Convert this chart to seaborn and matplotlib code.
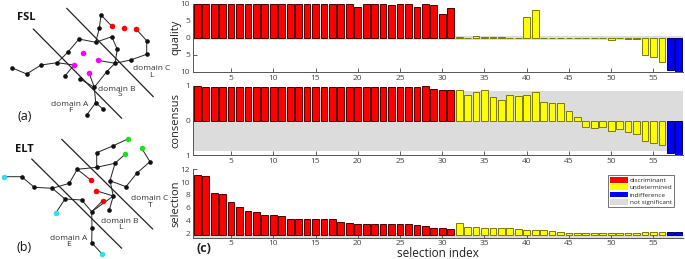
import numpy as np
import pandas as pd
import matplotlib
matplotlib.use("Agg")
import matplotlib.pyplot as plt
from matplotlib.patches import Patch
import seaborn as sns

sns.set_theme(style="white")
plt.rcParams['font.family'] = ['Open Sans', 'DejaVu Sans']

# ---------------- data ----------------
index = list(range(1, 59))
category = (['discriminant'] * 31) + (['undetermined'] * 25) + (['indifference'] * 2)

quality = [10, 10, 10, 10, 10, 10, 10, 10, 10, 10, 10, 9.8, 10, 10, 10, 10, 10, 9.8, 9.8, 9.0,
           10, 10, 10, 9.7, 9.8, 10, 9.0, 10, 9.5, 6.8, 8.6,
           0.15, 0.0, 0.4, 0.15, 0.15, 0.15, 0.0, 0.0, 6.0, 8.0, 0.0, 0.0, 0.0, 0.0, 0.0,
           -0.12, -0.12, -0.12, -0.6, -0.12, -0.25, -0.25, -4.9, -5.5, -7.0, -9.3, -10.0]

consensus = [1.0] + [0.98] * 22 + [0.96, 0.98, 0.98, 0.98, 0.99, 0.92, 0.88, 0.88,
             0.87, 0.74, 0.82, 0.87, 0.67, 0.60, 0.73, 0.70, 0.75, 0.82,
             0.53, 0.51, 0.51, 0.27, 0.10,
             -0.18, -0.23, -0.19, -0.31, -0.26, -0.34, -0.40,
             -0.60, -0.66, -0.72, -0.93, -1.0]

selection = [11.1, 11.0, 8.35, 8.2, 6.85, 6.16, 5.5, 5.33, 4.86, 4.86, 4.7, 4.28, 4.28, 4.28, 4.28,
             4.18, 4.18, 3.8, 3.66, 3.5, 3.5, 3.4, 3.4, 3.4, 3.4, 3.4, 3.25, 3.14, 2.88, 2.78, 2.67,
             3.56, 3.0, 2.93, 2.88, 2.82, 2.82, 2.82, 2.67, 2.56, 2.52, 2.52, 2.36, 2.2, 2.05,
             2.1, 2.1, 2.1, 2.1, 2.1, 2.1, 2.1, 2.1, 2.12, 2.12, 2.12, 2.12, 2.12]
selection_base = 1.8

legend_labels = ['discriminant', 'undetermined', 'indifference', 'not significant']
palette = {'discriminant': '#FF0000', 'undetermined': '#FFFF00',
           'indifference': '#0000FF', 'not significant': '#DCDCDC'}
edges = {'discriminant': '#4a0000', 'undetermined': '#7a7a00',
         'indifference': '#00006a'}

# graph diagrams (pixel coordinates of nodes in figure space)
fsl_black = [(11.7, 67.7), (26.7, 74), (41, 65), (57.3, 62.7), (65, 76), (68.3, 51.7), (79, 39),
             (80, 79), (95.7, 42.3), (99.3, 28.3), (101, 15), (111.7, 36.7), (117.3, 49.3),
             (115, 63.3), (106.7, 71.7), (94.3, 87.3), (95.7, 102.7), (103.3, 109.3), (86.7, 115),
             (130.7, 60), (146.7, 54.3), (146.7, 40.7)]
fsl_red = [(111.7, 26), (124, 27.7), (136, 29)]
fsl_mag = [(83.3, 52.7), (97.7, 60.3), (74, 65), (89, 72.7)]
fsl_paths = [[(11.7, 67.7), (26.7, 74), (41, 65), (57.3, 62.7), (74, 65)],
             [(74, 65), (65, 76)],
             [(57.3, 62.7), (68.3, 51.7), (79, 39), (95.7, 42.3), (99.3, 28.3), (101, 15), (111.7, 26)],
             [(95.7, 42.3), (111.7, 36.7), (117.3, 49.3), (115, 63.3), (106.7, 71.7), (94.3, 87.3)],
             [(115, 63.3), (130.7, 60), (146.7, 54.3), (146.7, 40.7), (136, 29)],
             [(97.7, 60.3), (115, 63.3)],
             [(89, 72.7), (94.3, 87.3)],
             [(80, 79), (94.3, 87.3), (95.7, 102.7), (86.7, 115)],
             [(95.7, 102.7), (103.3, 109.3)]]
fsl_cuts = [[(33.3, 29), (121.7, 118.3)], [(66.7, 8.3), (153.3, 96.7)]]

elt_black = [(21.7, 176.7), (34.3, 187.3), (52.3, 188.3), (65, 199), (69.3, 183.3), (77.3, 169.3),
             (81.7, 200), (96.7, 167.3), (96.7, 152.7), (112.7, 146), (115, 163.3), (110, 180.7),
             (113.3, 196), (109.3, 210), (91.7, 211.7), (92, 228.3), (91.7, 242.7), (126, 186.7),
             (136.7, 173.3), (150, 161.7)]
elt_cyan = [(4, 176.7), (56, 212.7), (102.3, 254.3)]
elt_green = [(127.7, 139), (125, 154.3), (141.7, 148.3)]
elt_red = [(90.7, 180), (96, 190.7), (102.7, 200.7)]
elt_paths = [[(4, 176.7), (21.7, 176.7), (34.3, 187.3), (52.3, 188.3), (65, 199), (56, 212.7)],
             [(52.3, 188.3), (69.3, 183.3), (77.3, 169.3), (96.7, 167.3), (96.7, 152.7), (112.7, 146), (127.7, 139)],
             [(65, 199), (81.7, 200), (91.7, 211.7)],
             [(77.3, 169.3), (90.7, 180)],
             [(96.7, 167.3), (115, 163.3), (125, 154.3)],
             [(115, 163.3), (110, 180.7), (113.3, 196), (109.3, 210)],
             [(110, 180.7), (126, 186.7), (136.7, 173.3), (150, 161.7), (141.7, 148.3)],
             [(96, 190.7), (113.3, 196)],
             [(102.7, 200.7), (91.7, 211.7)],
             [(91.7, 211.7), (113.3, 196)],
             [(91.7, 211.7), (92, 228.3), (91.7, 242.7), (102.3, 254.3)]]
elt_cuts = [[(31.7, 159), (121.7, 248.3)], [(61.7, 139.3), (152.7, 229)]]

# ---------------- figure ----------------
W, H = 685, 259
fig = plt.figure(figsize=(W / 100, H / 100), dpi=100)

def fr(top, bottom, left=193, right=683):
    return [left / W, 1 - bottom / H, (right - left) / W, (bottom - top) / H]

axq = fig.add_axes(fr(3.5, 72))
axc = fig.add_axes(fr(86, 155))
axs = fig.add_axes(fr(169.3, 237.7))

df = pd.DataFrame({'index': index, 'category': category, 'quality': quality,
                   'consensus': consensus, 'selection': selection})
df['sel_h'] = df['selection'] - selection_base

def style(ax, ylim, yticks, ylabels, ylabel, lx):
    ax.set_xlim(0.5, 58.5)
    ax.set_ylim(*ylim)
    ax.set_xticks(range(5, 56, 5))
    ax.set_xticklabels([str(v) for v in range(5, 56, 5)])
    ax.set_yticks(yticks)
    ax.set_yticklabels(ylabels)
    ax.tick_params(direction='in', length=3, width=0.6, labelsize=6, colors='#444444',
                   pad=2, bottom=True, left=True)
    for s in ['top', 'right']:
        ax.spines[s].set_visible(False)
    for s in ['left', 'bottom']:
        ax.spines[s].set_color('#555555')
        ax.spines[s].set_linewidth(0.7)
    ax.set_xlabel('')
    ax.set_ylabel(ylabel, fontsize=8, color='#222222')
    ax.yaxis.set_label_coords(lx, 0.5)
    ax.set_facecolor('white')

def color_edges(ax):
    inv = {matplotlib.colors.to_hex(v).lower(): k for k, v in palette.items()}
    for p in ax.patches:
        key = inv.get(matplotlib.colors.to_hex(p.get_facecolor()).lower())
        if key in edges:
            p.set_edgecolor(edges[key])
            p.set_linewidth(0.7)

bar_kw = dict(hue='category', palette=palette, native_scale=True, legend=False,
              width=0.8, saturation=1, zorder=2)

# quality
axq.axhspan(-0.7, 0.6, color='#DCDCDC', zorder=0, lw=0)
sns.barplot(data=df, x='index', y='quality', ax=axq, **bar_kw)
color_edges(axq)
style(axq, (-10, 10), [-10, -5, 0, 5, 10], ['10', '5', '0', '5', '10'], 'quality', -0.024)

# consensus
axc.axhspan(-0.87, 0.85, color='#DCDCDC', zorder=0, lw=0)
sns.barplot(data=df, x='index', y='consensus', ax=axc, **bar_kw)
color_edges(axc)
style(axc, (-1, 1), [-1, 0, 1], ['1', '0', '1'], 'consensus', -0.024)

# selection
axs.axhspan(1.3, 2.0, color='#DCDCDC', zorder=0, lw=0)
sns.barplot(data=df, x='index', y='sel_h', ax=axs, bottom=selection_base, **bar_kw)
color_edges(axs)
style(axs, (1.3, 12), [2, 4, 6, 8, 10, 12], ['2', '4', '6', '8', '10', '12'], 'selection', -0.024)
axs.set_xlabel('selection index', fontsize=8.5, color='#222222', labelpad=0)

handles = [Patch(facecolor=palette[k], edgecolor='none') for k in legend_labels]
leg = axs.legend(handles, legend_labels, loc='upper left',
                 bbox_to_anchor=((608 - 193) / 490, 1 - (175 - 169.3) / 68.4),
                 fontsize=4.6, frameon=True, fancybox=False, borderpad=0.3,
                 handlelength=2.8, handleheight=1.0, labelspacing=0.2, handletextpad=0.3,
                 borderaxespad=0)
leg.get_frame().set_edgecolor('#333333')
leg.get_frame().set_linewidth(0.6)

# ---------------- diagrams ----------------
ov = fig.add_axes([0, 0, 1, 1], zorder=-1)

def draw_graph(paths, cuts, groups):
    for pth in paths:
        xs, ys = zip(*pth)
        ov.plot(xs, ys, color='#222222', lw=0.7, zorder=1)
    for c in cuts:
        xs, ys = zip(*c)
        ov.plot(xs, ys, color='#222222', lw=0.9, zorder=1)
    for pts, col, s in groups:
        xs, ys = zip(*pts)
        sns.scatterplot(x=list(xs), y=list(ys), color=col, s=s, linewidth=0, ax=ov, zorder=3)

draw_graph(fsl_paths, fsl_cuts, [(fsl_black, '#111111', 11), (fsl_red, '#FF0000', 16),
                                 (fsl_mag, '#FF00FF', 16)])
draw_graph(elt_paths, elt_cuts, [(elt_black, '#111111', 11), (elt_cyan, '#33DDEE', 16),
                                 (elt_green, '#22DD22', 16), (elt_red, '#FF0000', 16)])
ov.set_xlim(0, W)
ov.set_ylim(H, 0)
ov.axis('off')

tk = dict(fontsize=6, color='#333333', ha='center', va='center')
ov.text(17, 17, 'FSL', fontsize=8, fontweight='bold', ha='left', va='center', color='#111111')
ov.text(151.7, 68.3, 'domain C', **tk)
ov.text(151.7, 75.3, 'L', **tk)
ov.text(117, 89.3, 'domain B', **tk)
ov.text(120, 95, 'S', **tk)
ov.text(70, 104, 'domain A', **tk)
ov.text(70, 110.5, 'F', **tk)
ov.text(25, 116, '(a)', fontsize=9, ha='center', va='center', color='#111111')

ov.text(15, 150, 'ELT', fontsize=8, fontweight='bold', ha='left', va='center', color='#111111')
ov.text(150, 199, 'domain C', **tk)
ov.text(150, 205.5, 'T', **tk)
ov.text(120, 221.7, 'domain B', **tk)
ov.text(120, 227.8, 'L', **tk)
ov.text(68.3, 238.3, 'domain A', **tk)
ov.text(68.3, 244, 'E', **tk)
ov.text(24, 247.3, '(b)', fontsize=9, ha='center', va='center', color='#111111')

ov.text(203.5, 249, '(c)', fontsize=9, fontweight='bold', ha='center', va='center', color='#222222')

fig.savefig('out.png', dpi=100)
